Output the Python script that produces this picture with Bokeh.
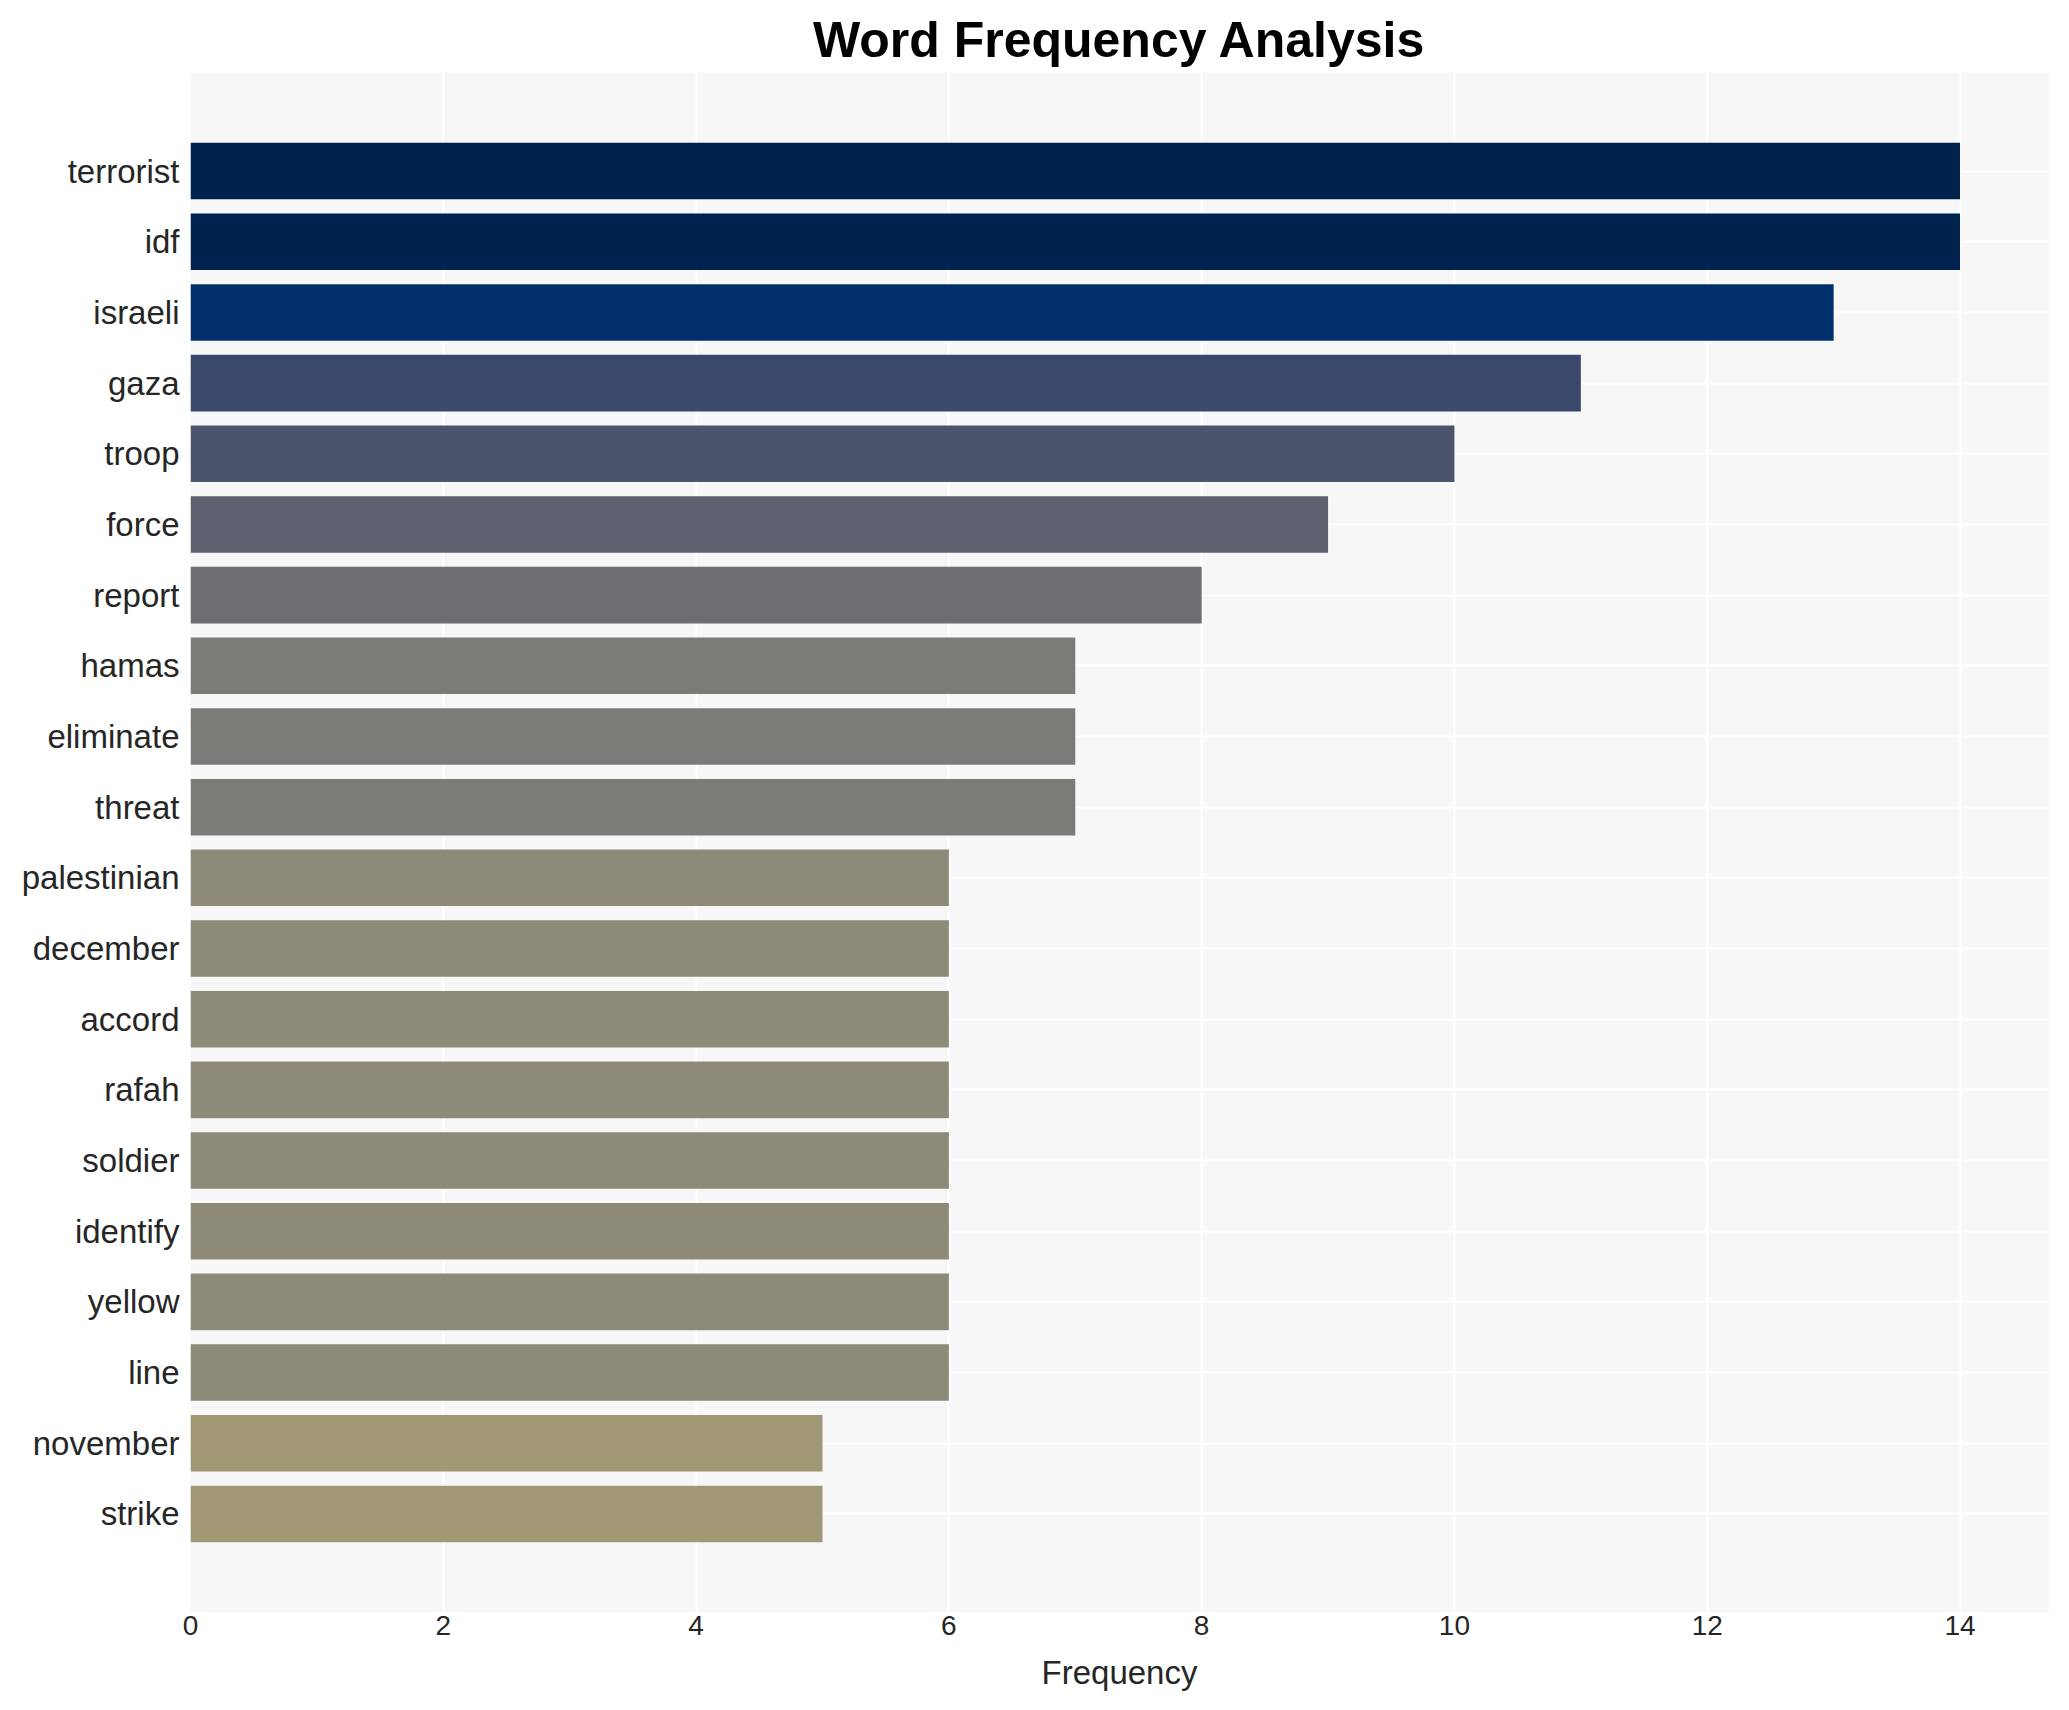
from bokeh.plotting import figure
from bokeh.models import ColumnDataSource, Range1d, FactorRange, FixedTicker
from bokeh.embed import file_html
from bokeh.resources import INLINE

words = ["terrorist", "idf", "israeli", "gaza", "troop", "force", "report",
         "hamas", "eliminate", "threat", "palestinian", "december", "accord",
         "rafah", "soldier", "identify", "yellow", "line", "november", "strike"]
freq = [14, 14, 13, 11, 10, 9, 8, 7, 7, 7, 6, 6, 6, 6, 6, 6, 6, 6, 5, 5]
color_by_freq = {14: "#00224E", 13: "#002F6C", 11: "#3A486B", 10: "#4B546C",
                 9: "#5E626E", 8: "#6C6E72", 7: "#7C7B78", 6: "#8E8A78",
                 5: "#A09775"}
x_ticks = [0, 2, 4, 6, 8, 10, 12, 14]

colors = [color_by_freq[f] for f in freq]
src = ColumnDataSource(dict(word=words, freq=freq, color=colors))

FONT = "Liberation Sans"

p = figure(width=2061, height=1702, output_backend="svg", toolbar_location=None,
           y_range=FactorRange(factors=list(reversed(words)), range_padding=0.0895),
           x_range=Range1d(0, 14.7),
           title="Word Frequency Analysis",
           min_border_left=190, min_border_right=13, min_border_top=72,
           min_border_bottom=90)

p.hbar(y="word", right="freq", left=0, height=0.8, color="color", source=src,
       line_color=None)

p.background_fill_color = "#F7F7F7"
p.border_fill_color = "white"
p.outline_line_color = None

p.title.text_font = FONT
p.title.text_font_size = "50px"
p.title.text_font_style = "bold"
p.title.text_color = "black"
p.title.align = "center"
p.title.standoff = 9

p.xaxis.ticker = FixedTicker(ticks=x_ticks)
p.xaxis.axis_label = "Frequency"
p.xaxis.axis_label_text_font = FONT
p.xaxis.axis_label_text_font_size = "33px"
p.xaxis.axis_label_text_font_style = "normal"
p.xaxis.axis_label_text_color = "#262626"
p.xaxis.axis_label_standoff = 16
p.xaxis.major_label_text_font = FONT
p.xaxis.major_label_text_font_size = "28px"
p.xaxis.major_label_text_color = "#262626"
p.xaxis.major_label_standoff = 3

p.yaxis.major_label_text_font = FONT
p.yaxis.major_label_text_font_size = "33px"
p.yaxis.major_label_text_color = "#262626"
p.yaxis.major_label_standoff = 11

for ax in (p.xaxis, p.yaxis):
    ax.axis_line_color = None
    ax.major_tick_line_color = None
    ax.minor_tick_line_color = None
    ax.major_tick_out = 0
    ax.major_tick_in = 0
    ax.minor_tick_out = 0
    ax.minor_tick_in = 0

p.xgrid.grid_line_color = "white"
p.xgrid.grid_line_width = 2
p.ygrid.grid_line_color = "white"
p.ygrid.grid_line_width = 2

open("out.html", "w").write(file_html(p, INLINE))
